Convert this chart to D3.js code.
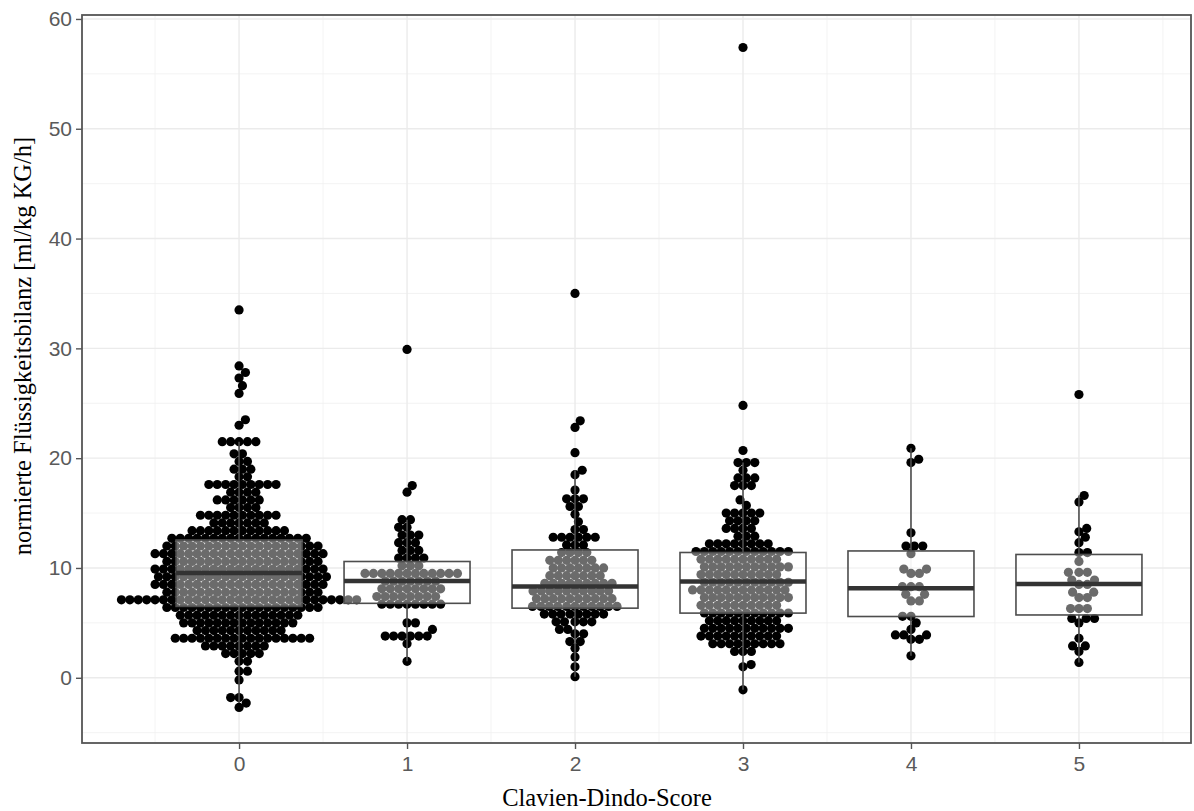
<!DOCTYPE html>
<html>
<head>
<meta charset="utf-8">
<script src="https://cdn.jsdelivr.net/npm/d3@7"></script>
<style>
body { margin: 0; background: #fff; }
</style>
</head>
<body>
<svg width="1194" height="811"></svg>
<script>
var categories = [0, 1, 2, 3, 4, 5];
var yTicks = [0, 10, 20, 30, 40, 50, 60];
var yMinor = [-5, 5, 15, 25, 35, 45, 55];
var xMinor = [-0.5, 0.5, 1.5, 2.5, 3.5, 4.5, 5.5];

// [value, how many patients] per Clavien-Dindo score
var score0 = [[33.5,1],[28.4,1],[27.8,1],[27.3,1],[26.6,1],[25.9,1],[23.5,1],[23.0,1],
    [21.5,5],[20.4,2],[19.7,2],[19.0,3],[18.3,2],[17.6,9],[16.9,4],[16.2,6],[15.5,4],[14.8,10],
    [14.1,7],[13.4,12],[12.7,17],[12.0,19],[11.3,21],[10.6,19],[9.9,21],[9.2,21],[8.5,21],
    [7.8,19],[7.1,29],[6.4,19],[5.7,15],[5.0,14],[4.3,11],[3.6,17],[2.9,8],[2.2,5],[1.5,2],
    [0.6,2],[-0.2,1],[-1.8,2],[-2.3,1],[-2.7,1]];
var score1 = [[29.9,1],[17.5,1],[16.9,1],[14.4,2],[13.7,2],[13.0,3],[12.3,3],[11.6,3],[10.9,4],
    [10.2,3],[9.5,12],[8.8,7],[8.1,8],[7.4,8],[6.7,8],[5.0,2],[4.4,1],[3.8,6],[3.1,1],[1.5,1]];
var score2 = [[35.0,1],[23.4,1],[22.8,1],[20.5,1],[18.9,1],[18.5,1],[17.1,1],[16.3,3],[15.6,2],
    [14.9,1],[14.2,1],[13.5,2],[12.8,6],[12.1,3],[11.4,4],[10.7,6],[10.0,7],[9.3,7],[8.6,9],
    [7.9,10],[7.2,10],[6.5,11],[5.8,8],[5.1,5],[4.4,2],[4.0,2],[3.3,2],[2.7,1],[1.9,1],[1.0,1],[0.1,1]];
var score3 = [[57.4,1],[24.8,1],[20.7,1],[19.6,3],[18.9,1],[18.2,3],[17.5,3],[16.2,1],[15.7,1],
    [15.0,5],[14.3,4],[13.6,4],[12.9,3],[12.2,8],[11.5,12],
    [10.8,10],[10.1,11],[9.4,10],[8.7,11],[8.0,12],[7.3,11],[6.6,10],[5.9,11],
    [5.2,9],[4.5,11],[3.8,10],[3.1,9],[2.4,3],[1.2,1],[1.0,1],[-1.1,1]];
var score4 = [[20.9,1],[19.9,1],[19.6,1],[13.2,1],[12.0,3],[11.3,1],[9.9,2],[9.5,2],[8.3,3],
    [7.6,2],[7.0,2],[5.6,2],[5.0,1],[4.4,1],[3.9,3],[3.5,2],[2.0,1]];
var score5 = [[25.8,1],[16.6,1],[16.0,1],[13.6,1],[13.3,1],[12.8,1],[12.3,1],[11.4,2],[10.6,1],
    [9.6,3],[8.9,2],[8.5,2],[7.8,2],[7.3,2],[6.3,3],[5.4,3],[5.0,1],[3.6,1],[2.9,2],[2.4,1],[1.4,1]];

// box statistics
var q1 = [6.5, 6.78, 6.34, 5.89, 5.58, 5.72];
var medians = [9.55, 8.82, 8.31, 8.77, 8.16, 8.54];
var q3 = [12.55, 10.59, 11.64, 11.41, 11.55, 11.23];
var whiskerLow = [-2.3, 1.5, 0.1, -1.1, 2.0, 1.4];
var whiskerHigh = [21.5, 14.4, 18.9, 19.6, 20.9, 16.6];

var groups = [score0, score1, score2, score3, score4, score5];

var svg = d3.select("svg"),
    margin = {top: 15, right: 3, bottom: 68, left: 82},
    width = 1194 - margin.left - margin.right,
    height = 811 - margin.top - margin.bottom;

var x = d3.scaleLinear().domain([-0.935, 5.667]).range([0, width]);
var y = d3.scaleLinear().domain([-5.94, 60.36]).range([height, 0]);

var g = svg.append("g")
    .attr("transform", "translate(" + margin.left + "," + margin.top + ")");

// grid
g.selectAll(".ygridminor").data(yMinor).enter().append("line")
    .attr("x1", 0).attr("x2", width)
    .attr("y1", d => y(d)).attr("y2", d => y(d))
    .attr("stroke", "#f0f0f0").attr("stroke-width", 0.8);
g.selectAll(".xgridminor").data(xMinor).enter().append("line")
    .attr("y1", 0).attr("y2", height)
    .attr("x1", d => x(d)).attr("x2", d => x(d))
    .attr("stroke", "#f0f0f0").attr("stroke-width", 0.8);
g.selectAll(".ygrid").data(yTicks).enter().append("line")
    .attr("x1", 0).attr("x2", width)
    .attr("y1", d => y(d)).attr("y2", d => y(d))
    .attr("stroke", "#ebebeb").attr("stroke-width", 1.4);
g.selectAll(".xgrid").data(categories).enter().append("line")
    .attr("y1", 0).attr("y2", height)
    .attr("x1", d => x(d)).attr("x2", d => x(d))
    .attr("stroke", "#ebebeb").attr("stroke-width", 1.4);

// beeswarm placement, points sorted from the bottom up
var diam = 8.4;
function swarm(pairs) {
    var pts = [];
    pairs.forEach(function (p) {
        for (var k = 0; k < p[1]; k++) pts.push({v: p[0], py: y(p[0])});
    });
    pts.sort(function (a, b) { return a.v - b.v; });
    var placed = [];
    pts.forEach(function (p) {
        var near = placed.filter(q => Math.abs(q.py - p.py) < diam);
        var cands = [0];
        near.forEach(function (q) {
            var dy = q.py - p.py;
            var dx = Math.sqrt(diam * diam - dy * dy);
            cands.push(q.dx + dx, q.dx - dx);
        });
        cands.sort((a, b) => Math.abs(a) - Math.abs(b));
        for (var i = 0; i < cands.length; i++) {
            var c = cands[i];
            var ok = near.every(q => (q.dx - c) * (q.dx - c) + (q.py - p.py) * (q.py - p.py) >= diam * diam - 0.01);
            if (ok) { p.dx = c; break; }
        }
        placed.push(p);
    });
    return placed;
}

groups.forEach(function (pairs, i) {
    var pts = swarm(pairs);
    g.append("g").selectAll("circle")
        .data(pts)
        .enter().append("circle")
        .attr("cx", d => x(categories[i]) + d.dx)
        .attr("cy", d => d.py)
        .attr("r", 4.6)
        .attr("fill", "#000");
});

// boxplots on top, half transparent white fill
var boxW = 0.375;
var box = g.selectAll(".box").data(categories).enter().append("g");
box.append("line")
    .attr("x1", d => x(d)).attr("x2", d => x(d))
    .attr("y1", (d, i) => y(q3[i])).attr("y2", (d, i) => y(whiskerHigh[i]))
    .attr("stroke", "#4d4d4d").attr("stroke-width", 1.6);
box.append("line")
    .attr("x1", d => x(d)).attr("x2", d => x(d))
    .attr("y1", (d, i) => y(q1[i])).attr("y2", (d, i) => y(whiskerLow[i]))
    .attr("stroke", "#4d4d4d").attr("stroke-width", 1.6);
box.append("rect")
    .attr("x", d => x(d - boxW))
    .attr("width", d => x(d + boxW) - x(d - boxW))
    .attr("y", (d, i) => y(q3[i]))
    .attr("height", (d, i) => y(q1[i]) - y(q3[i]))
    .attr("fill", "#fff").attr("fill-opacity", 0.42)
    .attr("stroke", "#4d4d4d").attr("stroke-width", 1.6);
box.append("line")
    .attr("x1", d => x(d - boxW)).attr("x2", d => x(d + boxW))
    .attr("y1", (d, i) => y(medians[i])).attr("y2", (d, i) => y(medians[i]))
    .attr("stroke", "#333").attr("stroke-width", 4.5);

// panel border
g.append("rect")
    .attr("x", 0).attr("y", 0).attr("width", width).attr("height", height)
    .attr("fill", "none").attr("stroke", "#555").attr("stroke-width", 1.8);

// axes
var yAxis = g.append("g")
    .call(d3.axisLeft(y).tickValues(yTicks).tickSize(6).tickPadding(4).tickFormat(d3.format("d")));
var xAxis = g.append("g")
    .attr("transform", "translate(0," + height + ")")
    .call(d3.axisBottom(x).tickValues(categories).tickSize(6).tickPadding(7).tickFormat(d3.format("d")));
[yAxis, xAxis].forEach(function (a) {
    a.select(".domain").remove();
    a.selectAll(".tick line").attr("stroke", "#555").attr("stroke-width", 1.4);
    a.selectAll(".tick text")
        .attr("fill", "#5a5a5a")
        .style("font-family", "'Liberation Sans', Arial, sans-serif")
        .style("font-size", "21px");
});

svg.append("text")
    .attr("x", 607).attr("y", 806)
    .attr("text-anchor", "middle")
    .style("font-family", "'Liberation Serif', 'Times New Roman', serif")
    .style("font-size", "24.5px")
    .attr("fill", "#000")
    .text("Clavien-Dindo-Score");

svg.append("text")
    .attr("transform", "translate(31,346) rotate(-90)")
    .attr("text-anchor", "middle")
    .style("font-family", "'Liberation Serif', 'Times New Roman', serif")
    .style("font-size", "24.5px")
    .attr("fill", "#000")
    .text("normierte Flüssigkeitsbilanz [ml/kg KG/h]");
</script>
</body>
</html>
